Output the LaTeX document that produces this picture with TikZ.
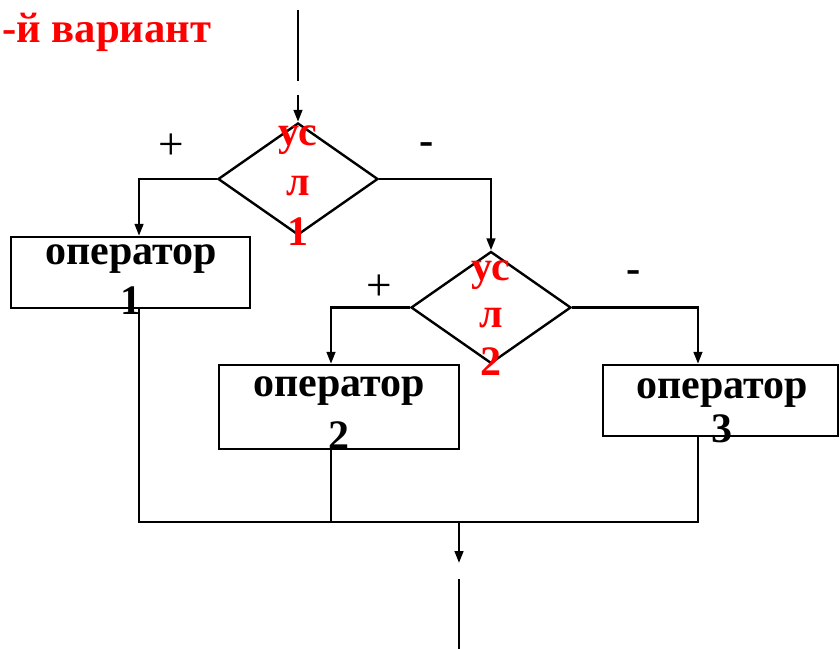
\documentclass[tikz,border=0pt]{standalone}
\usepackage{fontspec}
\setmainfont{Liberation Serif}
\usetikzlibrary{shapes.geometric,arrows.meta}

\begin{document}
\begin{tikzpicture}[x=0.75pt,y=-0.75pt,
    line width=1.8pt,
    arr/.style={-{Triangle[width=6.5pt,length=9pt]}},
    cond/.style={draw, diamond, minimum width=120pt, minimum height=84pt, inner sep=0pt},
    opbox/.style={draw, rectangle, inner sep=0pt},
    optext/.style={anchor=base, align=center, inner sep=0pt,
                   font=\fontsize{31.5}{37.5}\selectfont\bfseries},
    condtext/.style={optext, text=red},
    sign/.style={inner sep=0pt, font=\fontsize{34}{40}\selectfont}]
  \useasboundingbox (0,0) rectangle (840,649);

  \node[anchor=base west, inner sep=0pt, text=red,
        font=\fontsize{32}{38}\selectfont\bfseries] (title) at (1,43) {-й вариант};

  % conditions
  \node[cond] (c1) at (298,179) {};
  \node[cond] (c2) at (491,307.5) {};
  \node[condtext] (c1text) at (298,246) {ус\\л\\1};
  \node[condtext, font=\fontsize{31.5}{35.5}\selectfont\bfseries] (c2text) at (491,375) {ус\\л\\2};

  % operators
  \node[opbox, minimum width=179.25pt, minimum height=53.25pt] (op1) at (130.5,272.5) {};
  \node[opbox, minimum width=180pt, minimum height=63pt] (op2) at (339,407) {};
  \node[opbox, minimum width=176.25pt, minimum height=53.25pt] (op3) at (720.5,400.5) {};
  \node[optext] (op1text) at (131,315) {оператор\\1};
  \node[optext, font=\fontsize{31.5}{40}\selectfont\bfseries] (op2text) at (339,450) {оператор\\2};
  \node[optext, font=\fontsize{31.5}{33}\selectfont\bfseries] (op3text) at (722,442) {оператор\\3};

  % signs
  \node[sign] (plus1) at (171,146.5) {+};
  \node[sign, font=\fontsize{32}{38}\selectfont\bfseries] (minus1) at (427,149) {-};
  \node[sign] (plus2) at (379,288) {+};
  \node[sign, font=\fontsize{32}{38}\selectfont\bfseries] (minus2) at (634,277) {-};

  % connectors
  \coordinate (in1) at (298,10);
  \coordinate (in2) at (298,81);
  \coordinate (in3) at (298,95);
  \coordinate (merge) at (459,522);
  \coordinate (out1) at (459,563);
  \coordinate (out2) at (459,579);
  \coordinate (out3) at (459,649);

  \draw (in1) -- (in2);
  \draw[arr] (in3) -- (c1.north);
  \draw[arr] (c1.west) -| ([xshift=6.4pt]op1.north);
  \draw[arr] (c1.east) -| (c2.north);
  \draw[arr] (c2.west) -| ([xshift=-6pt]op2.north);
  \draw[arr] (c2.east) -| ([xshift=-16.9pt]op3.north);

  \draw ([xshift=6.4pt]op1.south) |- (merge);
  \draw ([xshift=-6pt]op2.south) |- (merge);
  \draw ([xshift=-16.9pt]op3.south) |- (merge);
  \draw[arr] (merge) -- (out1);
  \draw (out2) -- (out3);
\end{tikzpicture}
\end{document}
